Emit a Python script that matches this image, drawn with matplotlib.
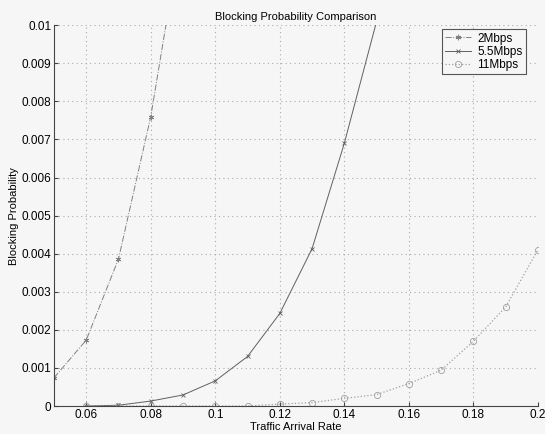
import numpy as np
import matplotlib
matplotlib.use("Agg")
import matplotlib.pyplot as plt

# Data
rate_2 = [0.05, 0.06, 0.07, 0.08, 0.09]
block_2 = [0.00074, 0.00173, 0.00386, 0.0076, 0.0127]

rate_55 = [0.06, 0.07, 0.08, 0.09, 0.10, 0.11, 0.12, 0.13, 0.14, 0.15]
block_55 = [0.0, 0.00002, 0.00013, 0.00029, 0.00066, 0.0013, 0.00243,
            0.00413, 0.0069, 0.0101]

rate_11 = [0.06, 0.07, 0.08, 0.09, 0.10, 0.11, 0.12, 0.13, 0.14, 0.15,
           0.16, 0.17, 0.18, 0.19, 0.20]
block_11 = [0.0, 0.0, 0.0, 0.0, 0.0, 0.0, 0.00005, 0.00009, 0.0002, 0.0003,
            0.00059, 0.00094, 0.0017, 0.0026, 0.0041]

x_ticks = [0.06, 0.08, 0.1, 0.12, 0.14, 0.16, 0.18, 0.2]
x_tick_labels = ["0.06", "0.08", "0.1", "0.12", "0.14", "0.16", "0.18", "0.2"]
y_ticks = [0, 0.001, 0.002, 0.003, 0.004, 0.005, 0.006, 0.007, 0.008, 0.009, 0.01]
y_tick_labels = ["0", "0.001", "0.002", "0.003", "0.004", "0.005", "0.006",
                 "0.007", "0.008", "0.009", "0.01"]

plt.rcParams['font.family'] = ['Liberation Sans', 'DejaVu Sans']

fig = plt.figure(figsize=(5.45, 4.34), dpi=100, facecolor='#f6f6f6')
ax = fig.add_axes([0.099, 0.0645, 0.888, 0.8775])
ax.set_facecolor('#f6f6f6')

ax.plot(rate_2, block_2, linestyle='-.', color='#808080', linewidth=0.7,
        marker=(6, 2, 0), markersize=4, markeredgewidth=0.6,
        label='2Mbps')
ax.plot(rate_55, block_55, linestyle='-', color='#606060', linewidth=0.7,
        marker='x', markersize=3.5, markeredgewidth=0.6, label='5.5Mbps')
ax.plot(rate_11, block_11, linestyle=':', color='#a0a0a0', linewidth=0.9,
        marker='o', markersize=4.5, markerfacecolor='none',
        markeredgewidth=0.6, label='11Mbps')

ax.set_xlim(0.05, 0.2)
ax.set_ylim(0, 0.01)
ax.set_xticks(x_ticks)
ax.set_xticklabels(x_tick_labels)
ax.set_yticks(y_ticks)
ax.set_yticklabels(y_tick_labels)
ax.tick_params(labelsize=8.5, direction='in', length=3, color='#444444', pad=2)

ax.grid(True, linestyle=(0, (1, 3)), color='#aaaaaa', linewidth=0.8)
ax.spines['top'].set_visible(False)
ax.spines['right'].set_visible(False)
ax.spines['left'].set_color('#444444')
ax.spines['bottom'].set_color('#444444')
ax.spines['left'].set_linewidth(0.8)
ax.spines['bottom'].set_linewidth(0.8)

ax.set_title("Blocking Probability Comparison", fontsize=8, pad=4)
ax.set_xlabel("Traffic Arrival Rate", fontsize=8, labelpad=1)
ax.set_ylabel("Blocking Probability", fontsize=8, labelpad=2)

leg = ax.legend(loc='upper right', bbox_to_anchor=(0.975, 0.99),
                borderaxespad=0, fontsize=8.5, fancybox=False,
                framealpha=1, handlelength=2.2, labelspacing=0.1,
                borderpad=0.3, handletextpad=0.5)
leg.get_frame().set_edgecolor('#555555')
leg.get_frame().set_facecolor('#f6f6f6')
leg.get_frame().set_linewidth(0.8)

fig.savefig("out.png", dpi=100, facecolor=fig.get_facecolor())
